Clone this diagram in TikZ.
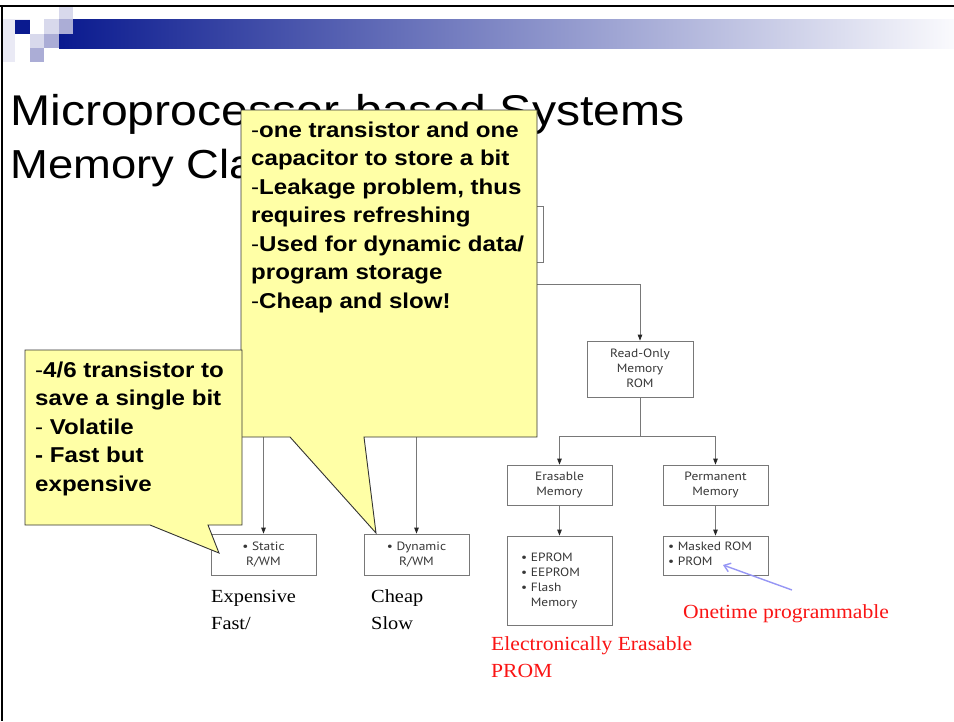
\documentclass[tikz,border=0pt]{standalone}
\usepackage{fontspec}
\setmainfont{Liberation Serif}
\setsansfont{Liberation Sans}
\newfontfamily\boxfont{PT Sans}
\usetikzlibrary{arrows.meta,calc}
\definecolor{barblue}{RGB}{10,26,143}
\definecolor{barend}{RGB}{250,250,253}
\definecolor{lavA}{RGB}{216,217,236}
\definecolor{lavB}{RGB}{171,173,214}
\definecolor{lavC}{RGB}{234,234,245}
\definecolor{callfill}{RGB}{255,255,166}
\definecolor{boxline}{RGB}{120,120,120}
\definecolor{boxtext}{RGB}{55,55,55}
\definecolor{notered}{RGB}{250,20,20}
\definecolor{arrowblue}{RGB}{150,150,245}
\newcommand{\hsx}[1]{\scalebox{1.12}[1]{#1}}
\tikzset{
  membox/.style={draw=boxline, line width=0.8pt, inner sep=0pt, minimum width=105pt},
  boxtxt/.style={font=\boxfont\fontsize{12}{15}\selectfont, text=boxtext, inner sep=0pt},
  conn/.style={draw=boxline, line width=0.8pt},
  arr/.style={conn, -{Triangle[length=6pt,width=4.5pt,color=black!85,fill=black!85]}},
  callout/.style={draw=black!80, line width=0.9pt, fill=callfill},
  calltext/.style={font=\sffamily\bfseries\fontsize{21.5}{28.5}\selectfont, xscale=1.12, inner sep=0pt, anchor=base west},
  titletext/.style={font=\sffamily\fontsize{43}{52}\selectfont, xscale=1.12, inner sep=0pt, anchor=base west},
  blacklabel/.style={font=\rmfamily\fontsize{18.5}{27}\selectfont, xscale=1.1, inner sep=0pt, anchor=base west},
  redlabel/.style={font=\rmfamily\fontsize{20}{27}\selectfont, text=notered, xscale=1.08, inner sep=0pt, anchor=base west},
  bluearr/.style={draw=arrowblue, line width=1.4pt, -{Straight Barb[length=6pt,width=9pt]}}
}
\begin{document}
\begin{tikzpicture}[x=1pt,y=-1pt]
\useasboundingbox (0,0) rectangle (954,721);
\fill[white] (0,0) rectangle (954,721);
% header decoration
\shade[left color=barblue, right color=barend] (59,19) rectangle (954,48);
\fill[lavC] (3,19) rectangle (30,62);
\fill[white] (15,34) rectangle (30,62);
\fill[lavA] (59,7) rectangle (73,19);
\fill[barblue] (15,20) rectangle (30,34);
\fill[white] (30,19) rectangle (44,34);
\fill[lavA] (44,19) rectangle (59,34);
\fill[lavB] (59,19) rectangle (73,34);
\fill[lavA] (30,34) rectangle (44,48);
\fill[lavB] (44,34) rectangle (59,48);
\fill[lavB] (30,48) rectangle (44,62);
\draw[line width=2pt] (0,6) -- (954,6);
\draw[line width=2pt] (1.5,5) -- (1.5,721);
% title
\node[titletext] (t1) at (10,125) {Microprocessor-based Systems};
\node[titletext, font=\sffamily\fontsize{40.5}{52}\selectfont] (t2) at (10,178) {Memory Classification};
% diagram boxes
\node[membox, minimum width=110pt, minimum height=56pt] (mem) at (488,234) {};
\node[membox, minimum width=106pt, minimum height=56pt, boxtxt] (rom) at (640,369) {\hsx{\begin{tabular}{@{}c@{}}Read-Only\\Memory\\ROM\end{tabular}}};
\node[membox, minimum height=40pt, boxtxt] (eras) at (559.5,485) {\hsx{\begin{tabular}{@{}c@{}}Erasable\\Memory\end{tabular}}};
\node[membox, minimum height=40pt, boxtxt] (perm) at (715.5,485) {\hsx{\begin{tabular}{@{}c@{}}Permanent\\Memory\end{tabular}}};
\node[membox, minimum height=89pt] (eprom) at (559.5,580.5) {};
\node[boxtxt, anchor=west] (epromtxt) at (521,580.5) {\hsx{\begin{tabular}{@{}l@{}}• EPROM\\• EEPROM\\• Flash\\\hphantom{• }Memory\end{tabular}}};
\node[membox, minimum height=39pt] (masked) at (715.5,555.5) {};
\node[boxtxt, anchor=west] (maskedtxt) at (668,554.5) {\hsx{\begin{tabular}{@{}l@{}}• Masked ROM\\• PROM\end{tabular}}};
\node[membox, minimum height=41pt, boxtxt] (static) at (263.5,554.5) {\hsx{\begin{tabular}{@{}c@{}}• Static\\R/WM\end{tabular}}};
\node[membox, minimum height=41pt, boxtxt] (dyn) at (416.5,554.5) {\hsx{\begin{tabular}{@{}c@{}}• Dynamic\\R/WM\end{tabular}}};
% connectors
\coordinate (msplit) at (488,284);
\draw[conn] (mem.south) -- (msplit);
\draw[arr] (msplit) -| (rom.north);
\coordinate (rsplit) at (640,436);
\draw[conn] (rom.south) -- (rsplit);
\draw[arr] (rsplit) -| (eras.north);
\draw[arr] (rsplit) -| (perm.north);
\draw[arr] (eras.south) -- (eprom.north);
\draw[arr] (perm.south) -- (masked.north);
\coordinate (ssplit) at (340,420);
\draw[conn] (static.north |- ssplit) -- (dyn.north |- ssplit);
\draw[arr] (static.north |- ssplit) -- (static.north);
\draw[arr] (dyn.north |- ssplit) -- (dyn.north);
% labels
\node[blacklabel] (exp) at (211,602) {Expensive};
\node[blacklabel] (fast) at (211,629) {Fast/};
\node[blacklabel] (cheap) at (371,602) {Cheap};
\node[blacklabel] (slow) at (371,629) {Slow};
\node[redlabel] (onetime) at (683,618) {Onetime programmable};
\node[redlabel] (eeprom1) at (491,650) {Electronically Erasable};
\node[redlabel] (eeprom2) at (491,677) {PROM};
\coordinate (bluestart) at (792,590);
\coordinate (promtip) at (723,565);
\draw[bluearr] (bluestart) -- (promtip);
% callouts
\draw[callout] (241,110) -- (537,110) -- (537,437) -- (364,437) -- (376,533) -- (290,437) -- (241,437) -- cycle;
\draw[callout] (25,350) -- (242,350) -- (242,525) -- (208,525) -- (219,553) -- (150,525) -- (25,525) -- cycle;
\node[calltext] (bigtext) at (251,137) {\vtop{\baselineskip=28.5pt
\hbox{\mdseries-\bfseries one transistor and one}
\hbox{capacitor to store a bit}
\hbox{\mdseries-\bfseries Leakage problem, thus}
\hbox{requires refreshing}
\hbox{\mdseries-\bfseries Used for dynamic data/}
\hbox{program storage}
\hbox{\mdseries-\bfseries Cheap and slow!}}};
\node[calltext] (lefttext) at (35,377) {\vtop{\baselineskip=28.5pt
\hbox{\mdseries-\bfseries 4/6 transistor to}
\hbox{save a single bit}
\hbox{\mdseries-\bfseries{} Volatile}
\hbox{- Fast but}
\hbox{expensive}}};
\end{tikzpicture}
\end{document}
